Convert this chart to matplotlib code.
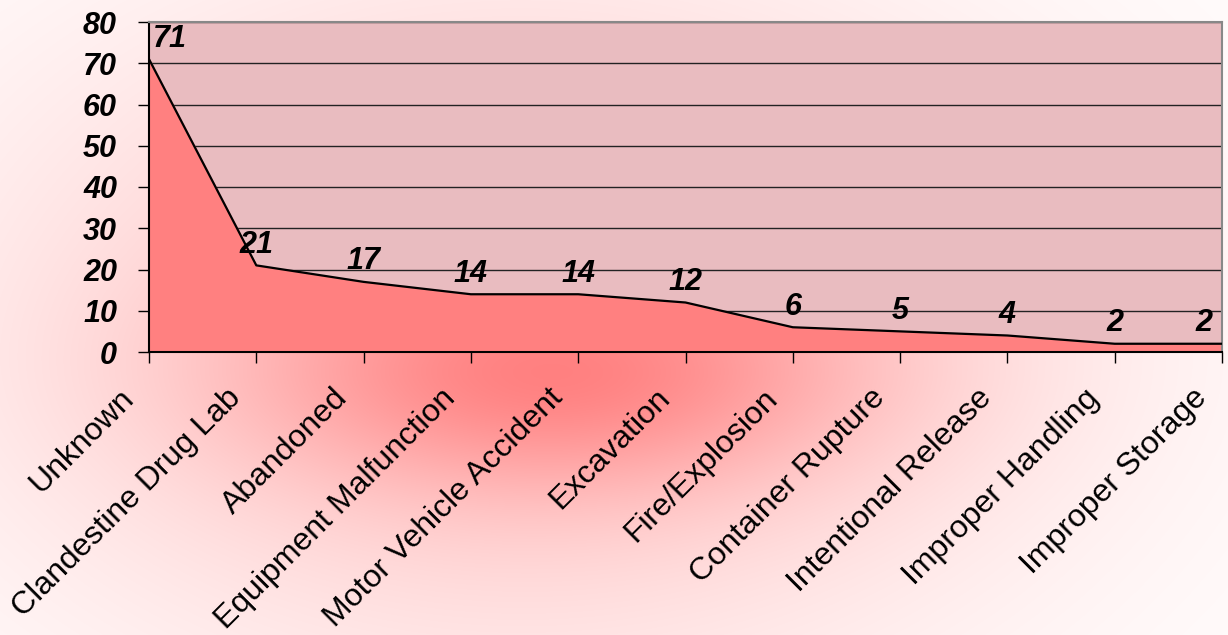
import numpy as np
import matplotlib
matplotlib.use("Agg")
import matplotlib.pyplot as plt
from matplotlib.transforms import ScaledTranslation

categories = ["Unknown", "Clandestine Drug Lab", "Abandoned", "Equipment Malfunction",
              "Motor Vehicle Accident", "Excavation", "Fire/Explosion", "Container Rupture",
              "Intentional Release", "Improper Handling", "Improper Storage"]
values = [71, 21, 17, 14, 14, 12, 6, 5, 4, 2, 2]
y_ticks = [0, 10, 20, 30, 40, 50, 60, 70, 80]

plt.rcParams['font.family'] = ['Liberation Sans', 'DejaVu Sans']

W, H = 1228, 635
fig = plt.figure(figsize=(W / 100, H / 100), dpi=100)

# decorative background glow
yy, xx = np.mgrid[0:H, 0:W].astype(float)
inten = np.zeros((H, W))
inten += 0.45 * np.exp(-(((xx - 520) / 380) ** 2 + ((yy - 330) / 250) ** 2) / 2)
inten += 0.55 * np.exp(-(((xx - 560) / 220) ** 2 + ((yy - 375) / 80) ** 2) / 2)
inten = np.clip(inten, 0, 1)
red = np.array([1.0, 0.50, 0.50])
img = np.ones((H, W, 3)) * (1 - inten[..., None]) + red * inten[..., None]
fig.figimage(img, xo=0, yo=0, origin='upper', zorder=-10)

ax = fig.add_axes([149 / W, 1 - 352 / H, (1222 - 149) / W, (352 - 22) / H])
ax.set_facecolor('#e9bcc0')
x = np.arange(len(values))
ax.fill_between(x, values, 0, color='#ff8080', zorder=2)
ax.plot(x, values, color='black', lw=1.6, zorder=3)
ax.set_xlim(0, len(values) - 1)
ax.set_ylim(0, 80)
ax.set_yticks(y_ticks)
ax.yaxis.grid(True, color='#222222', lw=1.0, zorder=1)
ax.set_axisbelow(True)

for s in ['left', 'bottom']:
    ax.spines[s].set_color('black')
    ax.spines[s].set_linewidth(1.5)
for s in ['top', 'right']:
    ax.spines[s].set_color('#888888')
    ax.spines[s].set_linewidth(1.5)

ax.tick_params(axis='both', length=8, width=1, color='black')
ax.tick_params(axis='y', pad=15)
for lab in ax.get_yticklabels():
    lab.set_fontsize(22)
    lab.set_fontweight('bold')
    lab.set_fontstyle('italic')

ax.set_xticks(x)
ax.set_xticklabels(categories, rotation=45, ha='right', va='center',
                   rotation_mode='anchor', fontsize=23)
ax.tick_params(axis='x', pad=4)
off = ScaledTranslation(-20 / 100, -25 / 100, fig.dpi_scale_trans)
for lab in ax.get_xticklabels():
    lab.set_transform(lab.get_transform() + off)

for i, v in enumerate(values):
    if i == 0:
        ha, dx = 'left', 3
    elif i == len(values) - 1:
        ha, dx = 'right', -7
    else:
        ha, dx = 'center', 0
    ax.annotate(str(v), (i, v), xytext=(dx, 4), textcoords='offset points',
                ha=ha, va='bottom', fontsize=22, fontweight='bold',
                fontstyle='italic', zorder=5, annotation_clip=False)

fig.savefig('out.png', dpi=100)
